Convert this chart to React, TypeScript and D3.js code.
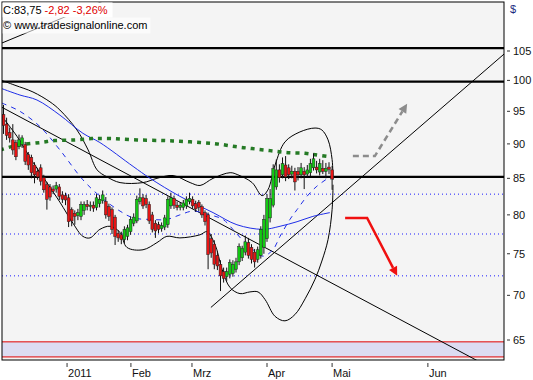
import React from "react";
import * as d3 from "d3";

// ---- candle data (bar index 0..106) ----
const opens = [94.5,93.0,91.7,90.6,90.2,89.6,89.9,89.9,88.4,88.0,86.9,86.0,86.5,85.1,84.1,83.8,83.5,83.5,83.8,82.7,82.6,82.3,80.7,80.2,79.9,79.8,80.6,81.4,81.1,81.3,81.0,81.5,81.9,81.8,81.1,80.7,79.7,77.6,77.4,76.8,77.2,77.8,78.9,79.2,81.8,82.3,82.2,81.4,80.0,78.9,78.7,78.2,78.4,78.7,81.2,82.2,81.3,81.0,81.0,81.2,81.8,82.1,81.5,81.7,81.1,80.3,80.0,76.9,76.2,74.8,73.7,72.8,72.2,72.5,72.6,73.1,74.0,74.5,75.2,76.4,75.8,75.2,74.3,74.8,75.8,76.9,79.6,81.3,83.8,86.2,85.5,86.9,86.5,85.6,86.0,86.0,85.5,86.0,85.6,85.8,86.5,86.6,85.9,86.4,86.0,86.6,86.2];
const highs = [96.0,94.0,92.5,93.0,90.6,91.4,91.3,90.3,88.8,88.4,87.3,86.5,87.0,85.5,84.5,84.2,84.0,84.5,84.2,83.2,83.0,82.8,81.0,80.6,80.8,81.8,81.8,82.0,81.8,81.8,82.8,82.7,83.3,82.4,81.5,81.0,80.0,78.0,77.8,78.5,78.7,79.8,80.2,82.6,83.6,82.8,82.7,81.8,80.4,79.3,79.1,79.0,80.0,82.5,83.0,82.6,81.8,81.7,82.0,82.5,83.0,82.5,81.9,82.0,81.4,80.6,80.3,77.5,76.7,75.3,74.2,73.3,73.3,74.3,74.2,74.5,76.3,76.0,77.3,77.0,76.2,75.6,75.9,78.5,80.0,82.8,83.5,87.0,87.7,87.0,88.0,88.2,87.0,86.8,86.5,86.6,87.2,86.6,86.9,87.8,88.6,87.5,87.8,87.6,87.2,87.3,86.8];
const lows = [91.5,90.6,90.2,88.4,87.6,89.2,89.4,86.9,86.2,85.0,84.3,84.8,84.0,83.0,80.7,81.9,82.8,83.0,82.0,81.6,81.3,78.4,78.5,78.7,79.3,79.3,80.0,80.6,80.5,80.4,80.6,81.0,81.5,79.5,79.2,77.5,76.1,76.5,76.2,76.3,76.7,77.4,78.5,78.9,81.4,80.8,80.9,78.8,77.7,77.0,77.6,77.8,78.0,78.3,80.8,80.8,80.6,80.6,80.6,80.8,81.4,80.8,80.4,80.5,79.6,78.6,73.1,74.5,73.1,73.0,70.5,71.5,71.7,72.0,72.2,72.7,73.6,74.1,74.8,74.4,73.8,73.3,73.9,74.4,75.0,76.5,79.0,81.0,83.4,84.4,85.0,84.6,84.9,85.0,83.3,84.7,85.0,83.5,85.2,85.3,86.1,85.7,85.4,85.6,85.0,85.6,83.4];
const closes = [92.8,91.3,90.9,89.1,88.1,90.6,90.9,87.4,86.9,85.8,85.5,85.2,84.6,83.4,82.1,82.4,83.2,84.0,82.5,82.1,82.0,79.1,79.2,79.8,80.3,81.4,81.4,81.1,81.3,80.9,82.3,82.1,82.7,80.0,79.8,78.1,77.2,77.0,76.8,78.1,78.3,79.4,79.7,82.1,82.3,81.2,81.4,79.2,78.1,77.9,78.1,78.6,79.6,82.1,82.3,81.3,81.0,81.3,81.6,82.1,82.2,81.2,80.8,81.0,80.0,79.1,74.9,75.1,73.7,73.5,72.3,72.0,72.8,73.9,73.7,74.0,75.9,75.7,76.5,74.8,74.3,74.0,75.5,78.1,79.4,82.2,82.2,86.4,86.2,85.1,87.1,85.2,85.5,86.0,84.5,85.5,86.5,85.5,86.2,87.1,87.8,86.2,87.1,86.0,86.4,86.3,84.9];

// ---- indicator traces: [bar index, price] ----
const upperBand: [number, number][] = [[-1.1,100.1],[3.7,99.2],[9.5,98.1],[15,96.5],[18.2,95.2],[23.7,92.1],[27.3,89.1],[30.2,86.2],[33.4,85.2],[37.6,84.4],[45,84.4],[49.5,85.0],[54.7,85.4],[60.2,84.4],[63.4,84.0],[67.6,85.0],[73.1,85.8],[75.6,85.5],[80.2,84.4],[83.4,82.6],[85.3,83.4],[87.6,86.9],[90.8,90.3],[95.6,91.8],[100.5,92.4],[102.7,92.1],[104.7,90.6],[106,87.7],[106.3,84.8]];
const lowerBand: [number, number][] = [[-0.2,94.0],[4.4,91.1],[9.5,87.3],[14,84.4],[18.2,81.7],[22.4,78.9],[25.6,77.2],[27.9,77.0],[31.1,78.1],[34.4,78.5],[37.6,77.7],[39.8,75.8],[45,75.5],[49.5,76.4],[52.7,77.2],[56.9,77.0],[63.4,77.4],[65.6,77.8],[68.2,76.2],[70.5,73.1],[73.1,70.9],[76.3,70.2],[79.5,70.4],[82.1,70.4],[84.4,69.5],[87.6,67.6],[90.8,67.1],[94,67.8],[97.3,69.6],[100.5,71.9],[102.7,74.1],[104.7,76.8],[106,80.7],[106.3,84.1]];
const maLong: [number, number][] = [[-1.1,98.75],[5.3,97.6],[10.8,96.8],[18.2,94.4],[25.6,91.6],[31.1,90.2],[41.8,86.7],[47.3,85.0],[56.9,82.5],[67.6,80.3],[75.3,78.7],[83.7,78.1],[89.2,78.5],[94.7,79.1],[99.8,79.8],[105.3,80.3]];
const maShort: [number, number][] = [[-0.5,96.3],[5.3,95.0],[11.8,92.6],[18.2,89.1],[25.6,84.8],[31.1,82.5],[34.4,81.4],[37.6,80.5],[41.8,79.6],[47.3,79.4],[52.7,79.4],[56.9,80.0],[61.1,80.5],[66.6,80.0],[70.8,79.4],[74,78.1],[76.9,76.8],[80.5,75.5],[83.7,74.7],[86.9,75.5],[89.2,77.2],[92.4,79.4],[94.7,80.7],[97.9,82.5],[101.1,83.9],[105.3,85.2]];
const ma200: [number, number][] = [[-1.1,89.1],[2.7,89.6],[6,89.9],[11.8,90.2],[16.6,90.5],[23.1,90.6],[28.5,90.8],[35,90.8],[43.1,90.6],[51.5,90.5],[56.9,90.4],[63.4,90.2],[68.9,90.0],[74.7,89.6],[80.2,89.3],[86,89.0],[91.8,88.7],[97.3,88.6],[100.5,88.4],[105.3,88.1]];

// ---- levels, trend lines, arrows ----
const resistanceLevels = [105.5, 99.8, 85.2];
const dottedLevels = [82.8, 77.5, 72.3];
const bandZone = [63.2, 64.8];
const downTrend: [number, number][] = [[0, 95.5], [100, 72.6]];
const upTrend: [number, number][] = [[69.8, 69.5], [137.6, 93.95]];
const upTrendStart = 66.9;
const topLine: [number, number][] = [[-0.5, 106.4], [13.4, 109.6]];
const redArrow: [number, number][] = [[110.2, 79.6], [117.3, 79.6], [127, 72.3]];
const grayArrow: [number, number][] = [[112.7, 88.2], [119.8, 88.2], [130.2, 96.2]];

// ---- axes ----
const yTicks = [65, 70, 75, 80, 85, 90, 95, 100, 105];
const xTickLabels = ["2011", "Feb", "Mrz", "Apr", "Mai", "Jun"];
const xTickPos = [20.5, 41.1, 60.8, 85, 106, 136.9];

const W = 533, H = 380;
const L = 2, T = 2, R = 504, B = 360;
const FONT = "Liberation Sans, Arial, sans-serif";

export default function App() {
  const x = d3.scaleLinear().domain([0, 106]).range([3.5, 332.1]);
  const y = d3.scaleLog().domain([65, 105]).range([340, 51]);

  const smooth = d3.line<[number, number]>().x(d => x(d[0])).y(d => y(d[1])).curve(d3.curveCatmullRom.alpha(0.5));

  const extLine = (pts: [number, number][], x0: number, x1: number) => {
    const ax = x(pts[0][0]), ay = y(pts[0][1]);
    const bx = x(pts[1][0]), by = y(pts[1][1]);
    const k = (by - ay) / (bx - ax);
    return { x1: x0, y1: ay + k * (x0 - ax), x2: x1, y2: ay + k * (x1 - ax) };
  };
  const dt = extLine(downTrend, L, R);
  const ut = extLine(upTrend, x(upTrendStart), R);
  const tl = extLine(topLine, L, 120);

  const arrow = (pts: [number, number][], color: string, dash?: string) => {
    const p = pts.map(d => [x(d[0]), y(d[1])] as [number, number]);
    const n = p.length;
    const [ax, ay] = p[n - 2];
    const [bx, by] = p[n - 1];
    const len = Math.hypot(bx - ax, by - ay);
    const ux = (bx - ax) / len, uy = (by - ay) / len;
    const hl = 9, hw = 4.5;
    const baseX = bx - ux * hl, baseY = by - uy * hl;
    const head = `M${bx},${by}L${baseX - uy * hw},${baseY + ux * hw}L${baseX + uy * hw},${baseY - ux * hw}Z`;
    const shaft = p.slice(0, n - 1).concat([[baseX, baseY]]);
    return (
      <g>
        <polyline points={shaft.map(q => q.join(",")).join(" ")} fill="none" stroke={color} strokeWidth={2.5} strokeDasharray={dash} />
        <path d={head} fill={color} />
      </g>
    );
  };

  return (
    <svg width={W} height={H} style={{ position: "absolute", left: 0, top: 0, background: "#fff" }} fontFamily={FONT}>
      <defs>
        <clipPath id="plot"><rect x={L} y={T} width={R - L} height={B - T} /></clipPath>
      </defs>
      <rect x={L} y={T} width={R - L} height={B - T} fill="#f4f4f4" />
      <g clipPath="url(#plot)">
        <rect x={L} y={y(bandZone[1])} width={R - L} height={y(bandZone[0]) - y(bandZone[1])} fill="#dcdcf2" />
        {bandZone.map((v, i) => <line key={i} x1={L} x2={R} y1={y(v)} y2={y(v)} stroke="#e00000" strokeWidth={1} />)}
        {dottedLevels.map((v, i) => <line key={i} x1={L} x2={R} y1={y(v)} y2={y(v)} stroke="#1a1aff" strokeWidth={1} strokeDasharray="1,3" />)}
        {resistanceLevels.map((v, i) => <line key={i} x1={L} x2={R} y1={y(v)} y2={y(v)} stroke="#000" strokeWidth={2.2} />)}
        <line {...dt} stroke="#000" strokeWidth={1} />
        <line {...ut} stroke="#000" strokeWidth={1} />
        <line {...tl} stroke="#000" strokeWidth={1} />
        <path d={smooth(upperBand) || ""} fill="none" stroke="#000" strokeWidth={1} />
        <path d={smooth(lowerBand) || ""} fill="none" stroke="#000" strokeWidth={1} />
        <path d={smooth(maLong) || ""} fill="none" stroke="#1f2ee8" strokeWidth={1} />
        <path d={smooth(maShort) || ""} fill="none" stroke="#1f2ee8" strokeWidth={1} strokeDasharray="5,5" />
        <path d={smooth(ma200) || ""} fill="none" stroke="#257a25" strokeWidth={3.5} strokeDasharray="4,5" />
        {closes.map((c, i) => {
          const o = opens[i];
          const up = c >= o;
          const cx = x(i);
          const top = y(Math.max(o, c)), bot = y(Math.min(o, c));
          return (
            <g key={i}>
              <line x1={cx} x2={cx} y1={y(highs[i])} y2={y(lows[i])} stroke="#111" strokeWidth={1} />
              <rect x={cx - 1.4} y={top} width={2.8} height={Math.max(1, bot - top)} fill={up ? "#14c814" : "#e61414"} stroke="#222" strokeWidth={0.5} />
            </g>
          );
        })}
        {arrow(redArrow, "#f01010")}
        {arrow(grayArrow, "#8c8c8c", "6,4")}
      </g>
      <rect x={L} y={T} width={R - L} height={B - T} fill="none" stroke="#000" strokeWidth={1} />
      {/* header */}
      <rect x={L + 0.5} y={T + 0.5} width={110} height={15} fill="#fff" />
      <rect x={L + 0.5} y={T + 15.5} width={148} height={16} fill="#fff" opacity={0.6} />
      <text x={3} y={14} fontSize={11}>
        <tspan fill="#000">C:83,75 </tspan>
        <tspan fill="#e00000">-2,82 -3,26%</tspan>
      </text>
      <text x={3} y={29} fontSize={11} fill="#000">© www.tradesignalonline.com</text>
      {/* right axis */}
      <text x={510} y={13} fontSize={11} fill="#1a2a80">$</text>
      {yTicks.map(v => (
        <g key={v}>
          <line x1={507} x2={510} y1={y(v)} y2={y(v)} stroke="#333" />
          <text x={513} y={y(v)} dy="0.35em" fontSize={11} fill="#111">{v}</text>
        </g>
      ))}
      {/* bottom axis */}
      {xTickLabels.map((lab, i) => (
        <g key={lab}>
          <line x1={x(xTickPos[i])} x2={x(xTickPos[i])} y1={363} y2={367} stroke="#333" />
          <text x={x(xTickPos[i]) + 1} y={377} fontSize={11} fill="#111">{lab}</text>
        </g>
      ))}
    </svg>
  );
}
